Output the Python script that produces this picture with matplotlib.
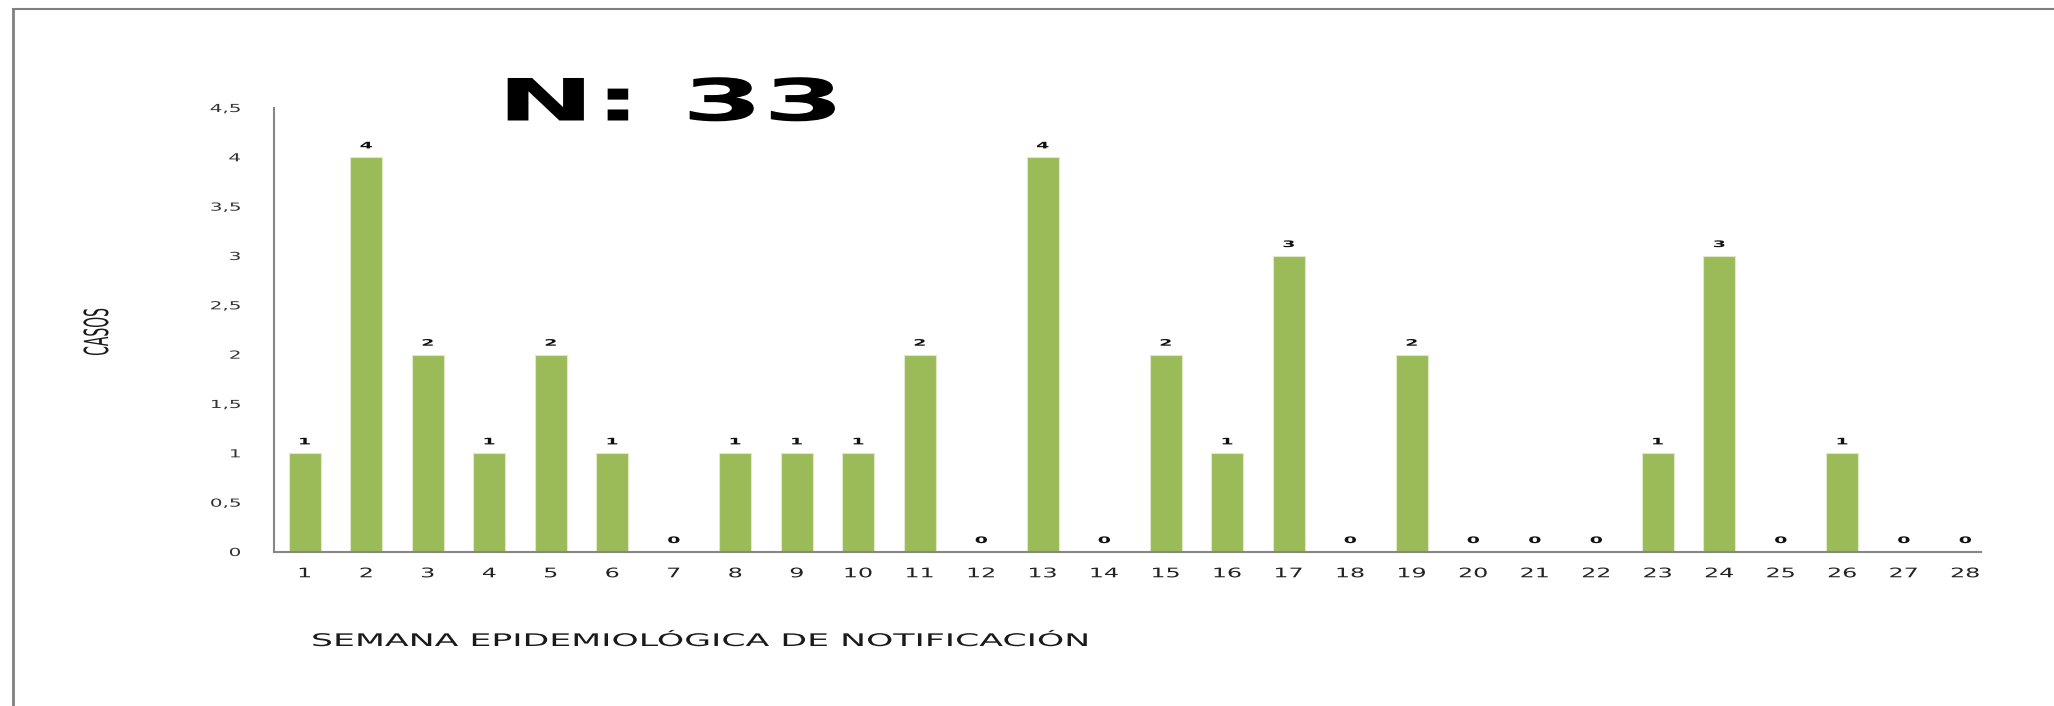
"""Casos por semana epidemiológica de notificación (N: 33)."""

import matplotlib

matplotlib.use("Agg")
import matplotlib.pyplot as plt
from matplotlib.lines import Line2D
from matplotlib.patheffects import AbstractPathEffect
from matplotlib.transforms import Affine2D


SEMANAS = [str(s) for s in range(1, 29)]
CASOS = [1, 4, 2, 1, 2, 1, 0, 1, 1, 1, 2, 0, 4, 0, 2, 1, 3, 0, 2, 0, 0, 0, 1, 3, 0, 1, 0, 0]
Y_TICKS = [0, 0.5, 1, 1.5, 2, 2.5, 3, 3.5, 4, 4.5]
Y_TICK_LABELS = ["0", "0,5", "1", "1,5", "2", "2,5", "3", "3,5", "4", "4,5"]

TITULO = "N: 33"
ETIQUETA_X = "SEMANA EPIDEMIOLÓGICA DE NOTIFICACIÓN"
ETIQUETA_Y = "CASOS"

VERDE = "#9bbb59"
GRIS_EJE = "#868686"


class Ensanchar(AbstractPathEffect):
    """Estira el texto en horizontal (la imagen original está ensanchada)."""

    def __init__(self, factor: float, ancla: str = "center"):
        super().__init__()
        self.factor = factor
        self.ancla = ancla

    def draw_path(self, renderer, gc, tpath, affine, rgbFace=None):
        caja = tpath.get_extents(affine)
        if self.ancla == "right":
            x0 = caja.x1
        elif self.ancla == "left":
            x0 = caja.x0
        else:
            x0 = (caja.x0 + caja.x1) / 2
        estirar = Affine2D().translate(-x0, 0).scale(self.factor, 1).translate(x0, 0)
        renderer.draw_path(gc, tpath, affine + estirar, rgbFace)


def main() -> None:
    fig = plt.figure(figsize=(20.54, 7.06), dpi=100)
    fig.patch.set_facecolor("white")

    # marco del gráfico (sólo se ven los bordes izquierdo y superior)
    fig.add_artist(Line2D([13 / 2054, 13 / 2054], [0, 1 - 9 / 706],
                          transform=fig.transFigure, color="#808080", lw=2))
    fig.add_artist(Line2D([13 / 2054, 1], [1 - 9 / 706, 1 - 9 / 706],
                          transform=fig.transFigure, color="#808080", lw=1.5))

    ax = fig.add_axes([274 / 2054, 1 - 552 / 706, (1996 - 274) / 2054, (552 - 108) / 706])
    x = list(range(len(SEMANAS)))
    ax.bar(x, CASOS, width=0.52, color=VERDE, edgecolor="#dfe9c8", linewidth=0.8, zorder=2)

    for pos, valor in zip(x, CASOS):
        etiqueta = ax.annotate(str(valor), (pos, valor), xytext=(0, 5), textcoords="offset points",
                               ha="center", va="bottom", fontsize=6.5, fontweight="bold",
                               color="#111111")
        etiqueta.set_path_effects([Ensanchar(2.1)])

    ax.set_xlim(-0.5, len(SEMANAS) - 0.5)
    ax.set_ylim(0, 4.5)
    ax.set_xticks(x, labels=SEMANAS)
    ax.set_yticks(Y_TICKS, labels=Y_TICK_LABELS)
    ax.tick_params(axis="x", length=0, pad=11, labelsize=9.5, labelcolor="#222222")
    ax.tick_params(axis="y", length=0, pad=24, labelsize=8, labelcolor="#333333")
    for lbl in ax.get_xticklabels():
        lbl.set_path_effects([Ensanchar(1.8)])
    for lbl in ax.get_yticklabels():
        lbl.set_path_effects([Ensanchar(1.8, "right")])

    ax.spines["bottom"].set_bounds(-0.5, len(SEMANAS) - 0.75)
    for side in ("top", "right"):
        ax.spines[side].set_visible(False)
    for side in ("left", "bottom"):
        ax.spines[side].set_color(GRIS_EJE)
        ax.spines[side].set_linewidth(1.5)

    titulo = fig.text(671 / 2054, 1 - 104 / 706, TITULO, ha="center", va="center",
                      fontsize=42, fontweight="bold", color="black")
    titulo.set_path_effects([Ensanchar(2.0)])
    etiqueta_x = fig.text(701 / 2054, 1 - 641 / 706, ETIQUETA_X, ha="center", va="center",
                          fontsize=12.5, color="#1a1a1a")
    etiqueta_x.set_path_effects([Ensanchar(2.0)])
    etiqueta_y = fig.text(97 / 2054, 1 - 332 / 706, ETIQUETA_Y, ha="center", va="center",
                          rotation=90, fontsize=10, color="#1a1a1a")
    etiqueta_y.set_path_effects([Ensanchar(2.4)])

    fig.savefig("out.png", dpi=100)
    plt.close(fig)


if __name__ == "__main__":
    main()
